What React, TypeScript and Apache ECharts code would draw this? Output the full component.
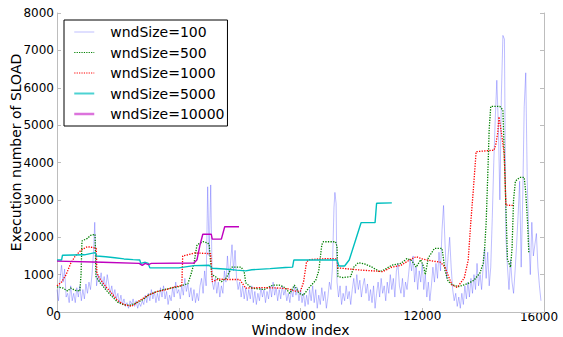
import React, { useEffect, useRef } from "react";
import * as echarts from "echarts";

const seriesNames = ["wndSize=100", "wndSize=500", "wndSize=1000", "wndSize=5000", "wndSize=10000"];
const xTicks = [0, 4000, 8000, 12000, 16000];
const yTicks = [0, 1000, 2000, 3000, 4000, 5000, 6000, 7000, 8000];

const wnd100: number[][] = [
  [0, 600], [50, 300], [100, 900], [150, 1250], [200, 800], [250, 1150], [300, 400], [350, 500], [400, 250], [450, 700],
  [500, 300], [550, 500], [600, 250], [650, 650], [700, 400], [750, 700], [800, 300], [850, 600], [900, 350], [950, 750],
  [1000, 500], [1050, 800], [1100, 600], [1150, 1000], [1200, 1600], [1240, 2400], [1270, 1500], [1300, 700], [1350, 1000], [1400, 800],
  [1450, 1050], [1500, 700], [1550, 950], [1600, 600], [1650, 1000], [1700, 750], [1750, 500], [1800, 700], [1850, 400], [1900, 600],
  [1950, 350], [2000, 500], [2050, 250], [2100, 450], [2150, 200], [2200, 350], [2250, 150], [2300, 250], [2350, 100], [2400, 300],
  [2450, 200], [2500, 350], [2550, 150], [2600, 300], [2650, 100], [2700, 250], [2750, 150], [2800, 300], [2850, 200], [2900, 450],
  [2950, 250], [3000, 500], [3050, 300], [3100, 600], [3150, 350], [3200, 550], [3250, 250], [3300, 500], [3350, 300], [3400, 650],
  [3450, 400], [3500, 700], [3550, 350], [3600, 550], [3650, 200], [3700, 450], [3750, 300], [3800, 650], [3850, 400], [3900, 800],
  [3950, 500], [4000, 600], [4050, 350], [4100, 700], [4150, 450], [4200, 900], [4250, 550], [4300, 750], [4350, 400], [4400, 650],
  [4450, 300], [4500, 600], [4550, 250], [4600, 500], [4650, 300], [4700, 700], [4750, 900], [4800, 500], [4850, 1100], [4900, 700],
  [4950, 3350], [5000, 1500], [5050, 3400], [5100, 800], [5150, 600], [5200, 900], [5250, 500], [5300, 800], [5350, 400], [5400, 700],
  [5450, 500], [5500, 1100], [5550, 800], [5600, 1500], [5650, 900], [5700, 1300], [5750, 1800], [5800, 1100], [5850, 1650], [5900, 900],
  [5950, 600], [6000, 800], [6050, 400], [6100, 700], [6150, 350], [6200, 650], [6250, 300], [6300, 600], [6350, 350], [6400, 700],
  [6450, 250], [6500, 550], [6550, 200], [6600, 500], [6650, 300], [6700, 650], [6750, 400], [6800, 600], [6850, 250], [6900, 550],
  [6950, 350], [7000, 700], [7050, 400], [7100, 800], [7150, 450], [7200, 650], [7250, 300], [7300, 600], [7350, 350], [7400, 700],
  [7450, 450], [7500, 600], [7550, 300], [7600, 500], [7650, 250], [7700, 600], [7750, 400], [7800, 700], [7850, 450], [7900, 650],
  [7950, 300], [8000, 600], [8050, 250], [8100, 500], [8150, 150], [8200, 450], [8250, 200], [8300, 600], [8350, 300], [8400, 700],
  [8450, 250], [8500, 600], [8550, 100], [8600, 450], [8650, 200], [8700, 650], [8750, 300], [8800, 550], [8850, 100], [8900, 400],
  [8950, 800], [9000, 600], [9050, 1200], [9100, 2800], [9130, 3200], [9170, 2900], [9200, 800], [9250, 400], [9300, 700], [9350, 200],
  [9400, 500], [9450, 300], [9500, 700], [9550, 350], [9600, 550], [9650, 200], [9700, 600], [9750, 900], [9800, 500], [9850, 1000],
  [9900, 600], [9950, 850], [10000, 400], [10050, 700], [10100, 900], [10150, 500], [10200, 750], [10250, 300], [10300, 600], [10350, 250],
  [10400, 700], [10450, 100], [10500, 500], [10550, 800], [10600, 400], [10650, 900], [10700, 500], [10750, 700], [10800, 300], [10850, 800],
  [10900, 500], [10950, 1000], [11000, 600], [11050, 900], [11100, 400], [11150, 1100], [11200, 1300], [11250, 700], [11300, 500], [11350, 900],
  [11400, 400], [11450, 800], [11500, 600], [11550, 1000], [11600, 1400], [11650, 1100], [11700, 1500], [11750, 800], [11800, 1200], [11850, 600],
  [11900, 1100], [11950, 800], [12000, 1300], [12050, 600], [12100, 1000], [12150, 400], [12200, 800], [12250, 300], [12300, 700], [12350, 1200],
  [12400, 800], [12450, 1300], [12500, 900], [12550, 1600], [12600, 1100], [12650, 2200], [12700, 2850], [12750, 1800], [12800, 900], [12850, 1500],
  [12900, 2000], [12950, 1200], [13000, 600], [13050, 300], [13100, 500], [13150, 150], [13200, 400], [13250, 100], [13300, 500], [13350, 200],
  [13400, 700], [13450, 350], [13500, 800], [13550, 400], [13600, 900], [13650, 500], [13700, 1000], [13750, 600], [13800, 1300], [13850, 700],
  [13900, 1000], [13950, 600], [14000, 1200], [14050, 1700], [14100, 900], [14150, 1600], [14200, 700], [14250, 1200], [14300, 2500], [14350, 4000],
  [14400, 5200], [14450, 6200], [14500, 5000], [14550, 3000], [14600, 5800], [14650, 7400], [14700, 7300], [14720, 5000], [14750, 2000], [14800, 1200],
  [14850, 600], [14900, 1400], [14950, 800], [15000, 500], [15050, 1100], [15100, 1800], [15150, 2600], [15200, 3500], [15250, 1200], [15300, 3000],
  [15350, 5500], [15400, 6400], [15450, 3500], [15500, 2000], [15550, 1000], [15600, 2400], [15650, 1500], [15700, 1800], [15750, 2100], [15800, 1200],
  [15850, 700], [15900, 300],
];

const wnd500: number[][] = [
  [0, 670], [200, 640], [350, 560], [450, 640], [600, 580], [750, 560], [790, 1000], [820, 1900], [1000, 1970], [1100, 2050],
  [1250, 2080], [1280, 950], [1400, 800], [1600, 600], [1800, 420], [2000, 260], [2200, 190], [2400, 180], [2600, 240], [2800, 320],
  [3000, 450], [3200, 520], [3500, 600], [3800, 650], [4000, 680], [4150, 720], [4300, 760], [4400, 1000], [4500, 1300], [4600, 1800],
  [4800, 1880], [4950, 1850], [5000, 1800], [5080, 1000], [5200, 950], [5400, 810], [5550, 900], [5650, 1050], [5750, 1200], [6050, 1200],
  [6150, 1080], [6200, 780], [6400, 640], [6800, 600], [7100, 720], [7300, 720], [7500, 650], [7650, 500], [7800, 720], [7950, 500],
  [8100, 450], [8250, 620], [8500, 850], [8600, 1100], [8700, 1800], [8750, 1880], [9150, 1880], [9200, 1750], [9230, 950], [9400, 920],
  [9650, 950], [9750, 1200], [9900, 1320], [10100, 1290], [10350, 1200], [10600, 1080], [10750, 1130], [11000, 1250], [11300, 1300], [11500, 1430],
  [11650, 1380], [11800, 1200], [11950, 1400], [12050, 1200], [12100, 1000], [12200, 1450], [12400, 1700], [12650, 1700], [12750, 1100], [12850, 820],
  [13000, 720], [13200, 680], [13500, 760], [13700, 850], [13900, 1050], [14000, 1300], [14050, 1700], [14100, 2400], [14150, 3600], [14200, 4900],
  [14250, 5500], [14550, 5500], [14650, 5400], [14700, 4100], [14760, 2500], [14800, 1400], [14900, 1200], [14950, 1700], [15000, 3000], [15060, 3500],
  [15200, 3600], [15350, 3600], [15400, 3200], [15460, 2400], [15500, 1600],
];

const wnd1000: number[][] = [
  [0, 700], [150, 800], [300, 1000], [450, 1300], [600, 1500], [800, 1660], [1000, 1750], [1200, 1720], [1290, 1700], [1310, 1040],
  [1400, 900], [1600, 680], [1800, 500], [2000, 300], [2200, 200], [2450, 150], [2700, 300], [3000, 450], [3300, 550], [3600, 600],
  [3900, 680], [4100, 700], [4130, 1500], [4400, 1550], [4500, 1580], [4800, 1570], [5050, 1560], [5100, 810], [5300, 880], [5600, 870],
  [6000, 870], [6200, 640], [6600, 650], [6900, 650], [7300, 640], [7600, 620], [7800, 560], [8000, 560], [8100, 800], [8200, 1350],
  [8300, 1400], [8600, 1420], [9000, 1430], [9200, 1420], [9230, 1180], [9600, 1150], [10000, 1120], [10400, 1100], [10700, 1080], [11000, 1200],
  [11300, 1250], [11600, 1400], [11800, 1480], [12000, 1420], [12300, 1370], [12600, 1330], [12750, 1200], [12820, 1040], [12980, 720], [13150, 660],
  [13380, 910], [13510, 1390], [13600, 2460], [13670, 3180], [13770, 4290], [14360, 4330], [14420, 4500], [14480, 4800], [14520, 5220], [14600, 4800],
  [14690, 4250], [14750, 2860], [15000, 2850],
];

const wnd5000: number[][] = [
  [0, 1390], [150, 1390], [180, 1520], [900, 1530], [1250, 1590], [1300, 1500], [1600, 1480], [1900, 1450], [2200, 1420], [2500, 1400],
  [2720, 1390], [2750, 1300], [2900, 1330], [3000, 1300], [3050, 1180], [4000, 1180], [4500, 1240], [5000, 1250], [5100, 1170], [5500, 1150],
  [5900, 1120], [6200, 1100], [6400, 1130], [7000, 1160], [7500, 1190], [7740, 1200], [7780, 1390], [9200, 1390], [9260, 1230], [9450, 1230],
  [9600, 1390], [9800, 1900], [9990, 2390], [10450, 2390], [10500, 2910], [11000, 2920],
];

const wnd10000: number[][] = [
  [0, 1360], [1500, 1330], [2700, 1300], [2800, 1250], [2900, 1300], [3000, 1270], [3100, 1300], [4500, 1310], [4600, 1400], [4700, 1800],
  [4790, 2080], [5070, 2080], [5100, 1950], [5400, 1950], [5510, 2280], [5980, 2280],
];

const seriesData = [wnd100, wnd500, wnd1000, wnd5000, wnd10000];
const colors = ["rgba(70,70,255,0.35)", "#008000", "#ff0000", "#00bfbf", "#bf00bf"];
const legendColors = ["rgba(70,70,255,0.35)", "#008000", "#ff0000", "rgba(0,191,191,0.7)", "rgba(191,0,191,0.55)"];
const lineTypes = ["solid", "dotted", "dotted", "solid", "solid"];
const widths = [1, 1.3, 1.3, 1.4, 1.4];
const legendWidths = [1, 1.2, 1.2, 2, 2.5];

export default function App() {
  const ref = useRef<HTMLDivElement>(null);
  useEffect(() => {
    if (!ref.current) return;
    const chart = echarts.init(ref.current, undefined, { renderer: "svg" });
    const font = "DejaVu Sans";
    const lastX = xTicks[xTicks.length - 1];
    chart.setOption({
      animation: false,
      backgroundColor: "#ffffff",
      textStyle: { fontFamily: font },
      grid: { left: 57, right: 19, top: 13, bottom: 25, containLabel: false, outerBoundsMode: "none" },
      legend: {
        orient: "vertical",
        left: 64,
        top: 20,
        padding: [4, 3, 4, 9],
        borderColor: "#000",
        borderWidth: 1,
        backgroundColor: "#fff",
        itemWidth: 20,
        itemHeight: 16,
        itemGap: 4.5,
        itemStyle: { opacity: 0 },
        textStyle: { fontFamily: font, fontSize: 14, color: "#000", padding: [0, 0, 0, 11], lineHeight: 16 },
        data: seriesNames.map((n, i) => ({
          name: n,
          itemStyle: { opacity: 0 },
          lineStyle: { color: legendColors[i], width: legendWidths[i], type: lineTypes[i], opacity: 1 },
        })),
      },
      graphic: [
        {
          type: "text",
          x: 539,
          y: 317,
          style: { text: String(lastX), fontFamily: font, fontSize: 12, fill: "#000", align: "center", verticalAlign: "middle" },
        },
      ],
      xAxis: {
        type: "value",
        min: 0,
        max: 16000,
        interval: 4000,
        name: "Window index",
        nameLocation: "middle",
        nameGap: 11,
        nameMoveOverlap: false,
        nameTextStyle: { fontFamily: font, fontSize: 14, color: "#000", verticalAlign: "top", lineHeight: 14 },
        axisLine: { show: true, lineStyle: { color: "#bdbdbd", width: 1 } },
        axisTick: { show: true, inside: true, length: 4, lineStyle: { color: "#bdbdbd" } },
        axisLabel: {
          fontFamily: font,
          fontSize: 12,
          color: "#000",
          margin: -2,
          formatter: (v: number) => (xTicks.includes(v) && v !== lastX ? String(v) : ""),
        },
        splitLine: { show: false },
      },
      yAxis: [
        {
          type: "value",
          min: 0,
          max: 8000,
          interval: 1000,
          name: "Execution number of SLOAD",
          nameLocation: "middle",
          nameGap: 34,
          nameMoveOverlap: false,
          nameTextStyle: { fontFamily: font, fontSize: 14, color: "#000", padding: [0, 0, 0, 20] },
          axisLine: { show: true, lineStyle: { color: "#bdbdbd", width: 1 } },
          axisTick: { show: true, inside: true, length: 4, lineStyle: { color: "#bdbdbd" } },
          axisLabel: { fontFamily: font, fontSize: 12, color: "#000", margin: 3, formatter: (v: number) => (yTicks.includes(v) ? String(v) : "") },
          splitLine: { show: false },
        },
        {
          type: "value",
          min: 0,
          max: 8000,
          interval: 1000,
          position: "right",
          axisLine: { show: true, lineStyle: { color: "#bdbdbd", width: 1 } },
          axisTick: { show: true, inside: true, length: 4, lineStyle: { color: "#bdbdbd" } },
          axisLabel: { show: false },
          splitLine: { show: false },
        },
      ],
      series: seriesData.map((d, i) => ({
        name: seriesNames[i],
        type: "line",
        data: d,
        symbol: "none",
        showSymbol: false,
        color: colors[i],
        lineStyle: { color: colors[i], width: widths[i], type: lineTypes[i] },
        z: 2 + i,
      })),
    });
    return () => chart.dispose();
  }, []);
  return <div ref={ref} style={{ position: "fixed", left: 0, top: 0, width: 563, height: 337, background: "#fff" }} />;
}
